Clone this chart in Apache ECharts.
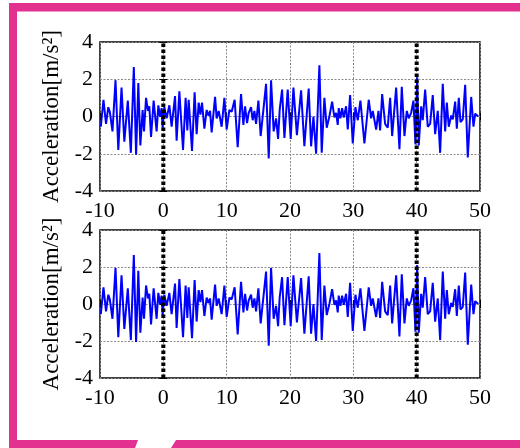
<!DOCTYPE html>
<html>
<head>
<meta charset="utf-8">
<script src="https://cdn.jsdelivr.net/npm/echarts@6/dist/echarts.min.js"></script>
<style>
html,body{margin:0;padding:0;background:#fff;}
#chart{width:520px;height:448px;}
</style>
</head>
<body>
<div id="chart"></div>
<script>
// Time [s]
const timeS = [-9.87,-9.45,-9.05,-8.69,-8.45,-8.03,-7.55,-7.11,-6.60,-6.16,-5.61,-5.13,-4.66,-4.30,-3.95,-3.63,-3.27,-3.05,-2.73,-2.42,-2.21,-1.94,-1.53,-1.06,-0.79,-0.52,-0.27,-0.11,0.16,0.52,0.95,1.31,1.85,2.10,2.53,3.11,3.52,3.79,4.00,4.53,4.94,5.26,5.58,5.85,6.11,6.48,6.84,7.11,7.38,7.63,8.17,8.42,8.74,9.21,9.64,10.00,10.43,10.79,11.06,11.26,11.74,12.27,12.64,12.91,13.22,13.48,13.85,14.11,14.38,14.64,15.01,15.37,16.22,16.64,17.01,17.42,17.80,18.12,18.37,18.75,19.12,19.64,20.11,20.54,21.09,21.75,22.27,22.95,23.33,23.70,24.12,24.64,25.01,25.43,25.80,26.22,26.65,27.01,27.28,27.54,27.69,27.96,28.23,28.48,28.86,29.12,29.49,29.91,30.33,30.70,31.12,31.75,32.43,32.81,33.07,33.60,33.97,34.23,34.55,35.02,35.43,35.81,36.13,36.76,37.28,37.65,38.07,38.44,38.75,39.13,39.49,39.81,40.08,40.33,40.71,40.96,41.34,41.75,42.13,42.54,42.92,43.33,43.71,44.12,44.50,44.76,45.07,45.45,45.70,46.08,46.34,46.65,46.92,47.28,47.66,48.07,48.61,48.97,49.24,49.49,49.72];
// Acceleration [m/s^2]
const accel = [-0.55,0.9,-0.4,0.5,0.25,-0.8,1.95,-1.8,1.55,-1.35,0.85,-1.95,2.65,-2.05,1.8,-1.55,0.35,-0.8,1.0,0.3,0.55,-1.1,0.85,-0.8,0.6,0.0,0.45,-0.6,0.5,-0.1,0.6,-0.55,1.1,-1.3,1.35,-1.8,1.0,-0.75,0.9,-1.85,1.3,-0.95,0.75,0.1,0.75,-0.65,0.35,0.05,0.3,-0.85,1.05,-0.1,0.3,-0.55,1.0,-0.7,0.35,0.25,0.35,0.9,-1.65,1.2,-0.45,0.55,-0.35,0.2,0.5,-0.2,0.3,-0.4,0.85,-1.05,1.75,-2.25,1.95,-0.8,-0.1,-1.2,0.35,1.45,-1.15,1.45,-1.2,1.55,-1.0,1.4,-1.6,1.5,-1.6,0.0,-2.0,2.75,-1.95,1.0,-0.6,0.0,0.8,-0.05,0.2,-0.45,0.45,-0.1,0.45,-0.05,0.55,-0.7,1.15,-1.45,0.5,-0.2,0.85,-1.45,0.9,-0.1,0.3,-0.7,0.3,-0.75,1.2,-0.4,-0.6,1.0,-1.05,1.55,-1.75,1.6,-1.05,0.3,-0.1,0.2,0.85,-1.5,2.1,-1.55,0.55,-0.2,1.45,-0.55,-0.4,1.15,-0.95,0.3,-1.95,1.75,-0.8,0.75,-0.55,0.05,-0.15,0.8,-0.65,1.0,-0.3,-0.15,1.7,-2.2,1.05,-0.55,0.15,0.25,0.0];
const markerTimes = [0, 40];
const xTicks = {min: -10, max: 50, step: 10};
const yTicks = {min: -4, max: 4, step: 2};
const yTitle = 'Acceleration[m/s²]';

const FONT = 'Liberation Serif';
const PINK = '#E3318F';
const pts = timeS.map((t, i) => [t, accel[i]]);

const grids = [
  {left: 100, right: 40, top: 42, height: 149},
  {left: 100, right: 40, top: 230, height: 148}
];

const xAxes = [], yAxes = [], series = [];
grids.forEach((g, gi) => {
  g.show = true; g.borderColor = '#000'; g.borderWidth = 1.5; g.backgroundColor = '#fff';
  xAxes.push({
    type: 'value', gridIndex: gi, min: xTicks.min, max: xTicks.max, interval: xTicks.step,
    axisLine: {show: false},
    axisTick: {show: true, inside: true, length: 4, lineStyle: {color: '#000'}},
    axisLabel: {color: '#000', fontFamily: FONT, fontSize: 22, margin: 9},
    splitLine: {show: true, lineStyle: {color: '#8a8a8a', type: [2, 1.5], width: 1}}
  });
  xAxes.push({
    type: 'value', gridIndex: gi, position: 'top', min: xTicks.min, max: xTicks.max, interval: xTicks.step,
    axisLine: {show: false},
    axisTick: {show: true, inside: true, length: 4, lineStyle: {color: '#000'}},
    axisLabel: {show: false}, splitLine: {show: false}
  });
  yAxes.push({
    type: 'value', gridIndex: gi, min: yTicks.min, max: yTicks.max, interval: yTicks.step,
    name: yTitle, nameLocation: 'middle', nameGap: 37,
    nameTextStyle: {color: '#000', fontFamily: FONT, fontSize: 23},
    axisLine: {show: false},
    axisTick: {show: true, inside: true, length: 4, lineStyle: {color: '#000'}},
    axisLabel: {color: '#000', fontFamily: FONT, fontSize: 22, margin: 7},
    splitLine: {show: true, lineStyle: {color: '#8a8a8a', type: [2, 1.5], width: 1}}
  });
  yAxes.push({
    type: 'value', gridIndex: gi, position: 'right', min: yTicks.min, max: yTicks.max, interval: yTicks.step,
    axisLine: {show: false},
    axisTick: {show: true, inside: true, length: 4, lineStyle: {color: '#000'}},
    axisLabel: {show: false}, splitLine: {show: false}
  });
  series.push({
    type: 'line', xAxisIndex: gi * 2, yAxisIndex: gi * 2, data: pts,
    showSymbol: false, symbol: 'none', animation: false, z: 3,
    lineStyle: {color: '#0000FF', width: 2}
  });
  markerTimes.forEach(m => {
    series.push({
      type: 'line', xAxisIndex: gi * 2, yAxisIndex: gi * 2,
      data: [[m, yTicks.min], [m, yTicks.max]],
      showSymbol: false, symbol: 'none', animation: false, z: 4,
      lineStyle: {color: '#000', width: 4, type: [3.5, 2.5], cap: 'butt'}
    });
  });
});

const chart = echarts.init(document.getElementById('chart'), null, {renderer: 'canvas'});
chart.setOption({
  animation: false,
  backgroundColor: '#fff',
  grid: grids,
  xAxis: xAxes,
  yAxis: yAxes,
  series: series,
  graphic: [
    {type: 'rect', shape: {x: 9, y: 3, width: 511, height: 8.5}, style: {fill: PINK}, z: 100},
    {type: 'rect', shape: {x: 9, y: 3, width: 8, height: 445}, style: {fill: PINK}, z: 100},
    {type: 'polygon', shape: {points: [[9, 440], [138, 440], [135, 448], [9, 448]]}, style: {fill: PINK}, z: 100},
    {type: 'polygon', shape: {points: [[176, 440], [520, 440], [520, 448], [171, 448]]}, style: {fill: PINK}, z: 100}
  ]
});
</script>
</body>
</html>
